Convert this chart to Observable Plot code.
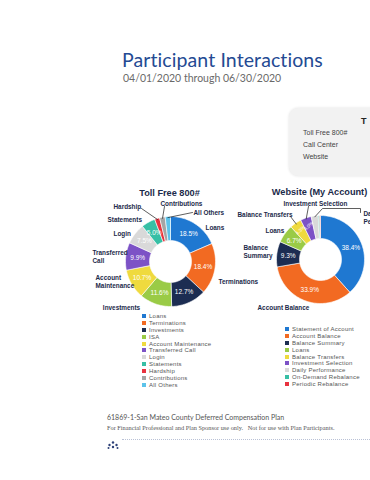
<!DOCTYPE html>
<html><head><meta charset="utf-8">
<script src="https://cdn.jsdelivr.net/npm/d3@7"></script>
<script src="https://cdn.jsdelivr.net/npm/@observablehq/plot@0.6"></script>
<style>
html,body{margin:0;padding:0;background:#fff;}
#page{position:relative;width:370px;height:480px;overflow:hidden;font-family:"Liberation Sans",Arial,sans-serif;}
.abs{position:absolute;white-space:nowrap;}
#title{left:122px;top:48px;font-family:Lato,"DejaVu Sans",sans-serif;font-size:19.5px;color:#244a93;letter-spacing:0.1px;}
#subtitle{left:123px;top:72px;font-family:Lato,"DejaVu Sans",sans-serif;font-size:10.5px;color:#6a6a6a;}
#box{left:289px;top:108px;width:95px;height:68px;background:#f2f2f2;border-radius:9px 0 0 9px;box-shadow:0 0 3px rgba(0,0,0,0.12);}
.boxt{font-size:7px;color:#444;line-height:12px;}
.leg{font-size:6px;letter-spacing:0.25px;color:#555;line-height:6.9px;}
.leg div{height:6.9px;}
.leg span.sw{display:inline-block;width:4px;height:4px;margin-right:3px;vertical-align:0px;}
#foot1{left:107px;top:413px;font-family:Lato,"DejaVu Sans",sans-serif;font-size:7px;color:#555;}
#foot2{left:107px;top:424px;font-family:"Liberation Serif",serif;font-size:6.3px;color:#555;}
#dots{left:122px;top:439px;width:248px;border-top:1.5px dotted #b9c1d6;}
</style></head>
<body><div id="page">
<div id="title" class="abs">Participant Interactions</div>
<div id="subtitle" class="abs">04/01/2020 through 06/30/2020</div>
<div id="box" class="abs"></div>
<div class="abs" style="left:361px;top:116px;font-size:9px;font-weight:bold;color:#222;">T</div>
<div class="abs boxt" style="left:303px;top:127px;">Toll Free 800#<br>Call Center<br>Website</div>
<div id="chart" class="abs" style="left:70px;top:180px;"></div>
<div id="leg1" class="abs leg" style="left:142px;top:313px;"></div>
<div id="leg2" class="abs leg" style="left:285px;top:326px;"></div>
<div id="foot1" class="abs">61869-1-San Mateo County Deferred Compensation Plan</div>
<div id="foot2" class="abs">For Financial Professional and Plan Sponsor use only.&nbsp;&nbsp; Not for use with Plan Participants.</div>
<div id="dots" class="abs"></div>
<div class="abs" style="left:107px;top:435px;width:12px;height:8px;">
<svg width="12" height="8"><g fill="#2c3f77"><circle cx="6" cy="1.5" r="1.2"/><circle cx="2.5" cy="4" r="1.2"/><circle cx="9.5" cy="4" r="1.2"/><circle cx="6" cy="6" r="1.2"/><circle cx="1.5" cy="7" r="1"/><circle cx="10.5" cy="7" r="1"/></g></svg></div>
</div>
<script>
// ---- data ----
const tfTitle = "Toll Free 800#";
const tfNames = ["Loans","Terminations","Investments","ISA","Account Maintenance","Transferred Call","Login","Statements","Hardship","Contributions","All Others"];
const tfValues = [18.5,18.4,12.7,11.6,10.7,9.9,7.5,5.0,1.8,2.0,1.9];
const tfColors = ["#1f78d1","#f26a22","#1c2d52","#9acb46","#efda3e","#7c52c6","#d9d9d9","#37bfa5","#e8323f","#a5a5a5","#5cc3ea"];

const wsTitle = "Website (My Account)";
const wsNames = ["Statement of Account","Account Balance","Balance Summary","Loans","Balance Transfers","Investment Selection","Daily Performance","On-Demand Rebalance","Periodic Rebalance"];
const wsValues = [38.4,33.9,9.3,6.7,4.3,4.0,2.6,0.5,0.3];
const wsColors = ["#1f78d1","#f26a22","#1c2d52","#9acb46","#efda3e","#7c52c6","#d9d9d9","#37bfa5","#e8323f"];

// ---- layout (not data) ----
const W = 300, H = 135, X0 = 70, Y0 = 180;
const donuts = [
  {key:"tf", title:tfTitle, names:tfNames, values:tfValues, colors:tfColors, cx:170, cy:261, r:45, ri:21, titleY:193,
   labels:{
    "Loans":{dx:35,dy:-34,a:"start"},
    "Terminations":{dx:48,dy:20,a:"start"},
    "Investments":{dx:-49,dy:46,a:"middle"},
    "Account Maintenance":{dx:-75,dy:16,a:"start",lines:["Account","Maintenance"]},
    "Transferred Call":{dx:-78,dy:-9,a:"start",lines:["Transferred","Call"]},
    "Login":{dx:-57,dy:-28,a:"start"},
    "Statements":{dx:-63,dy:-42,a:"start"},
    "Hardship":{dx:-57,dy:-55,a:"start",leader:[-29,-53]},
    "Contributions":{dx:-10,dy:-58,a:"start",leader:[-6,-55]},
    "All Others":{dx:23,dy:-49,a:"start",leader:[22,-49]}
   }},
  {key:"ws", title:wsTitle, names:wsNames, values:wsValues, colors:wsColors, cx:320, cy:259, r:44, ri:21, titleY:192,
   labels:{
    "Investment Selection":{dx:-37,dy:-56,a:"start",leader:[-12,-53]},
    "Balance Transfers":{dx:-83,dy:-45,a:"start",leader:[-30,-43]},
    "Loans":{dx:-55,dy:-29,a:"start"},
    "Balance Summary":{dx:-77,dy:-12,a:"start",lines:["Balance","Summary"]},
    "Account Balance":{dx:-63,dy:48,a:"start"},
    "Daily Performance":{dx:43,dy:-46,a:"start",lines:["Daily","Performance"],elbow:[[2,-51],[40,-51],[40,-47]]}
   }}
];

const polar = (d, r, deg) => {
  const t = deg * Math.PI / 180;
  return [d.cx + r * Math.sin(t), d.cy - r * Math.cos(t)];
};

const slicePts = [], pctLabels = [], smallPct = [], outLabels = [], leaders = [], titles = [];
for (const d of donuts) {
  const total = d3.sum(d.values);
  let acc = 0;
  d.names.forEach((name, i) => {
    const a0 = acc / total * 360, a1 = (acc + d.values[i]) / total * 360;
    acc += d.values[i];
    const id = d.key + ":" + name;
    const n = Math.max(2, Math.ceil((a1 - a0) / 2));
    const pts = [];
    for (let k = 0; k <= n; k++) pts.push(polar(d, d.r, a0 + (a1 - a0) * k / n));
    for (let k = n; k >= 0; k--) pts.push(polar(d, d.ri, a0 + (a1 - a0) * k / n));
    pts.push(pts[0]);
    pts.forEach(([x, y]) => slicePts.push({id, x, y, color: d.colors[i]}));
    const am = (a0 + a1) / 2;
    if (d.values[i] >= 4) {
      const [x, y] = polar(d, (d.r + d.ri) / 2 + (d.values[i] < 5 ? 3 : 0), am);
      (d.values[i] < 5 ? smallPct : pctLabels).push({x, y, text: d.values[i].toFixed(1) + "%"});
    }
    const L = d.labels[name];
    if (L) {
      const lines = L.lines || [name];
      lines.forEach((t, j) => outLabels.push({x: d.cx + L.dx, y: d.cy + L.dy + j * 8.5, text: t, a: L.a}));
      const tip = polar(d, d.r - 1, am);
      if (L.leader) {
        leaders.push({id: id, x: d.cx + L.leader[0], y: d.cy + L.leader[1]});
        leaders.push({id: id, x: tip[0], y: tip[1]});
      }
      if (L.elbow) {
        leaders.push({id: id, x: tip[0], y: tip[1]});
        L.elbow.forEach(([ex, ey]) => leaders.push({id: id, x: d.cx + ex, y: d.cy + ey}));
      }
    }
  });
  titles.push({x: d.cx - 1, y: d.titleY, text: d.title});
}

const font = "Liberation Sans, Arial, sans-serif";
const chart = Plot.plot({
  width: W, height: H,
  margin: 0,
  x: {domain: [X0, X0 + W], axis: null},
  y: {domain: [Y0, Y0 + H], reverse: true, axis: null},
  color: {type: "identity"},
  style: {background: "transparent", overflow: "visible"},
  marks: [
    Plot.line(slicePts, {x: "x", y: "y", z: "id", fill: "color", stroke: "white", strokeWidth: 0.6, curve: "linear"}),
    Plot.text(pctLabels, {x: "x", y: "y", text: "text", fill: "white", fontSize: 6.5, fontFamily: font}),
    Plot.text(smallPct, {x: "x", y: "y", text: "text", fill: "white", fontSize: 4.6, fontFamily: font, rotate: -45}),
    Plot.line(leaders, {x: "x", y: "y", z: "id", stroke: "#1a1a1a", strokeWidth: 0.7}),
    Plot.text(outLabels.filter(d => d.a === "start"), {x: "x", y: "y", text: "text", textAnchor: "start", fill: "#1b2a4a", fontWeight: "bold", fontSize: 6.4, fontFamily: font}),
    Plot.text(outLabels.filter(d => d.a === "middle"), {x: "x", y: "y", text: "text", textAnchor: "middle", fill: "#1b2a4a", fontWeight: "bold", fontSize: 6.4, fontFamily: font}),
    Plot.text(titles, {x: "x", y: "y", text: "text", fill: "#1b2a4a", fontWeight: "bold", fontSize: 9.2, fontFamily: font})
  ]
});
document.getElementById("chart").appendChild(chart);

function legend(el, names, colors) {
  const box = document.getElementById(el);
  names.forEach((n, i) => {
    const row = document.createElement("div");
    const sw = document.createElement("span");
    sw.className = "sw"; sw.style.background = colors[i];
    row.appendChild(sw);
    row.appendChild(document.createTextNode(n));
    box.appendChild(row);
  });
}
legend("leg1", tfNames, tfColors);
legend("leg2", wsNames, wsColors);
</script>
</body></html>
